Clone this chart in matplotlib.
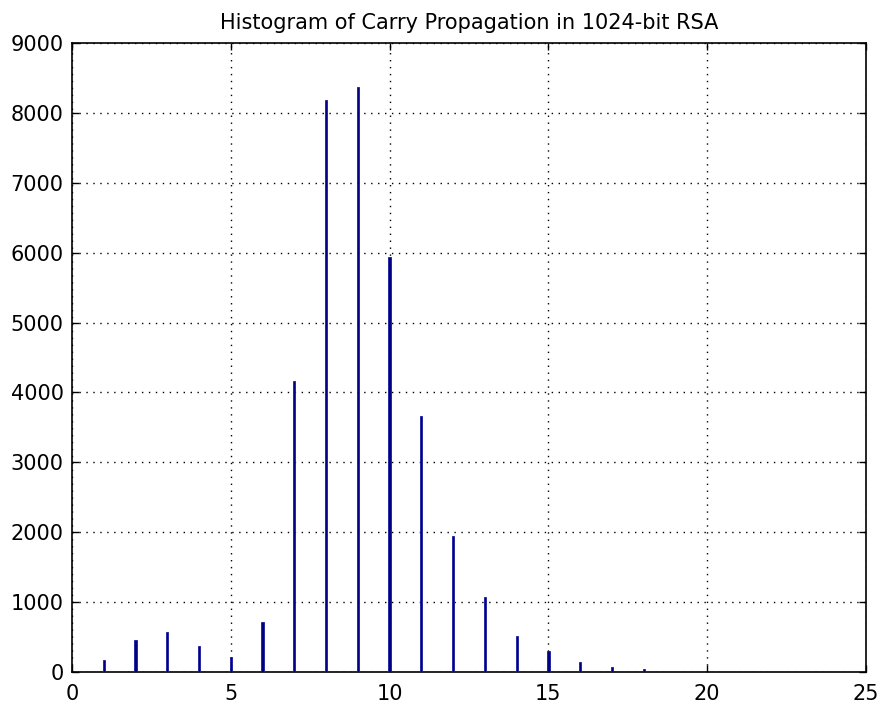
import matplotlib
matplotlib.use("Agg")
import matplotlib.pyplot as plt

# carry propagation length -> count
carry_len = [1, 2, 3, 4, 5, 6, 7, 8, 9, 10, 11, 12, 13, 14, 15, 16, 17, 18]
counts = [167, 454, 564, 372, 215, 716, 4165, 8183, 8374, 5940, 3660,
          1942, 1065, 507, 290, 143, 63, 34]

x_ticks = [0, 5, 10, 15, 20, 25]
y_ticks = [0, 1000, 2000, 3000, 4000, 5000, 6000, 7000, 8000, 9000]

plt.rcParams["font.family"] = ["DejaVu Sans"]

fig = plt.figure(figsize=(8.81, 7.08), dpi=100)
ax = fig.add_axes([0.0817, 0.0513, 0.9013, 0.8877])

ax.bar(carry_len, counts, width=0.07, color="#000080", edgecolor="#1a1aa0",
       linewidth=0.6, zorder=3)

ax.set_xlim(0, 25)
ax.set_ylim(0, 9000)
ax.set_xticks(x_ticks)
ax.set_yticks(y_ticks)
ax.tick_params(direction="in", length=5, width=1, labelsize=15, top=True, right=True,
               labeltop=False, labelright=False)
ax.tick_params(axis="x", pad=9)
ax.tick_params(axis="y", pad=6)
ax.grid(True, linestyle=(0, (1, 4)), color="black", linewidth=1)
for s in ax.spines.values():
    s.set_linewidth(1.2)

ax.set_title("Histogram of Carry Propagation in 1024-bit RSA", fontsize=15, pad=10)

fig.savefig("out.png", dpi=100)
